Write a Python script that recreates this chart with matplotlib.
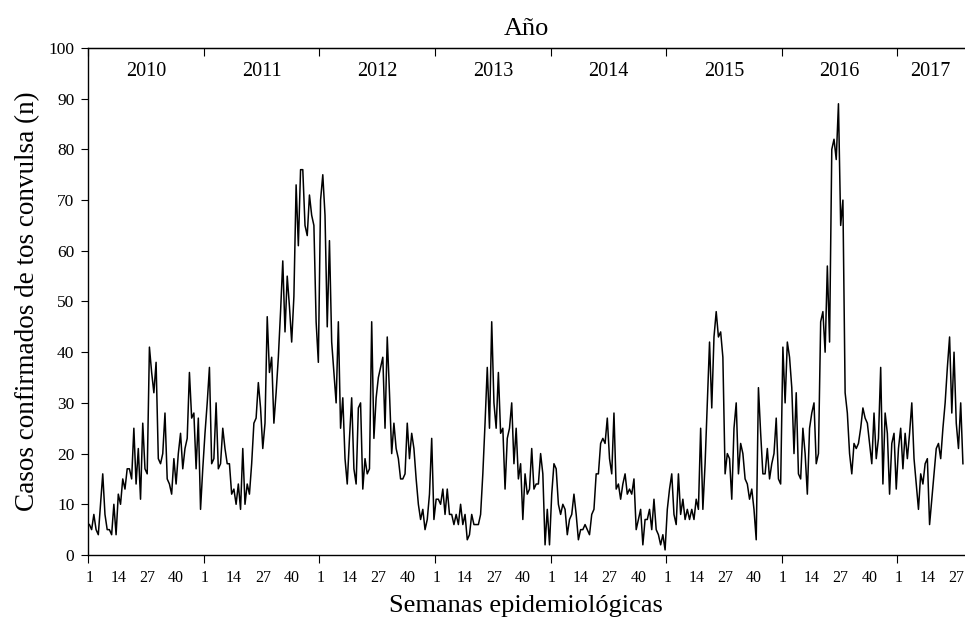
import numpy as np
import matplotlib.pyplot as plt

plt.rcParams['font.family'] = ['Liberation Serif', 'DejaVu Serif']

# casos semanales de tos convulsa, semanas 1-52 por año (2017 hasta la semana 30)
years = ['2010', '2011', '2012', '2013', '2014', '2015', '2016', '2017']
label_weeks = [1, 14, 27, 40]

casos_2010 = [6, 5, 8, 5, 4, 10, 16, 8, 5, 5, 4, 10, 4, 12, 10, 15, 13, 17, 17, 15,
              25, 14, 21, 11, 26, 17, 16, 41, 36, 32, 38, 19, 18, 20, 28, 15, 14, 12, 19, 14,
              20, 24, 17, 21, 23, 36, 27, 28, 17, 27, 9, 17]
casos_2011 = [24, 30, 37, 18, 19, 30, 17, 18, 25, 21, 18, 18, 12, 13, 10, 14, 9, 21, 10, 14,
              12, 18, 26, 27, 34, 29, 21, 26, 47, 36, 39, 26, 32, 39, 48, 58, 44, 55, 49, 42,
              51, 73, 61, 76, 76, 65, 63, 71, 67, 65, 46, 38]
casos_2012 = [70, 75, 67, 45, 62, 42, 36, 30, 46, 25, 31, 19, 14, 23, 31, 17, 14, 29, 30, 13,
              19, 16, 17, 46, 23, 31, 35, 37, 39, 25, 43, 32, 20, 26, 21, 19, 15, 15, 16, 26,
              19, 24, 21, 15, 10, 7, 9, 5, 7, 12, 23, 7]
casos_2013 = [11, 11, 10, 13, 8, 13, 8, 8, 6, 8, 6, 10, 6, 8, 3, 4, 8, 6, 6, 6,
              8, 16, 26, 37, 25, 46, 30, 25, 36, 24, 25, 13, 23, 25, 30, 18, 25, 15, 18, 7,
              16, 12, 13, 21, 13, 14, 14, 20, 16, 2, 9, 2]
casos_2014 = [12, 18, 17, 10, 8, 10, 9, 4, 7, 8, 12, 8, 3, 5, 5, 6, 5, 4, 8, 9,
              16, 16, 22, 23, 22, 27, 19, 16, 28, 13, 14, 11, 14, 16, 12, 13, 12, 15, 5, 7,
              9, 2, 7, 7, 9, 5, 11, 5, 4, 2, 4, 1]
casos_2015 = [9, 13, 16, 8, 6, 16, 8, 11, 7, 9, 7, 9, 7, 11, 9, 25, 9, 18, 30, 42,
              29, 43, 48, 43, 44, 39, 16, 20, 19, 11, 25, 30, 16, 22, 20, 15, 14, 11, 13, 9,
              3, 33, 24, 16, 16, 21, 15, 18, 20, 27, 15, 14]
casos_2016 = [41, 30, 42, 39, 33, 20, 32, 16, 15, 25, 20, 12, 25, 28, 30, 18, 20, 46, 48, 40,
              57, 42, 80, 82, 78, 89, 65, 70, 32, 28, 20, 16, 22, 21, 22, 25, 29, 27, 26, 22,
              18, 28, 19, 23, 37, 14, 28, 24, 12, 22, 24, 13]
casos_2017 = [21, 25, 17, 24, 19, 24, 30, 19, 14, 9, 16, 14, 18, 19, 6, 11, 16, 21, 22, 19,
              25, 30, 37, 43, 28, 40, 26, 21, 30, 18]

casos = (casos_2010 + casos_2011 + casos_2012 + casos_2013 +
         casos_2014 + casos_2015 + casos_2016 + casos_2017)
n = len(casos)
x = np.arange(n) + 0.5

fig = plt.figure(figsize=(9.65, 6.24), dpi=100)
ax = fig.add_axes([0.0915, 0.1106, 0.9075, 0.8125])
ax.plot(x, casos, color='black', lw=1.1)

ax.set_xlim(0, n)
ax.set_ylim(0, 100)
ax.set_yticks(range(0, 101, 10))
ax.tick_params(axis='y', direction='out', length=5, labelsize=12.5, pad=5)

# year boundaries as major ticks, week labels as minor ticks
starts = np.arange(0, n, 52)
ax.set_xticks(starts)
ax.set_xticklabels([])
pos, labs = [], []
for s in starts:
    for w in label_weeks:
        if s + w - 0.5 < n:
            pos.append(s + w - 0.5)
            labs.append(str(w))
ax.set_xticks(pos, minor=True)
ax.set_xticklabels(labs, minor=True)
ax.tick_params(axis='x', which='major', direction='out', length=6)
ax.tick_params(axis='x', which='minor', length=0, labelsize=11.5, pad=11)

ax.spines['right'].set_visible(False)
for sp in ['left', 'bottom', 'top']:
    ax.spines[sp].set_linewidth(1.0)

top = ax.secondary_xaxis('top')
top.set_xticks(starts)
top.set_xticklabels([])
top.tick_params(direction='in', length=6)

for k, yr in enumerate(years):
    end = min(starts[k] + 52, n)
    ax.text((starts[k] + end) / 2, 95.3, yr, ha='center', va='center', fontsize=14.5)

ax.set_title('Año', fontsize=19, pad=9)
ax.set_xlabel('Semanas epidemiológicas', fontsize=19, labelpad=6)
ax.set_ylabel('Casos confirmados de tos convulsa (n)', fontsize=19.5, labelpad=6)

fig.savefig('out.png', dpi=100)
